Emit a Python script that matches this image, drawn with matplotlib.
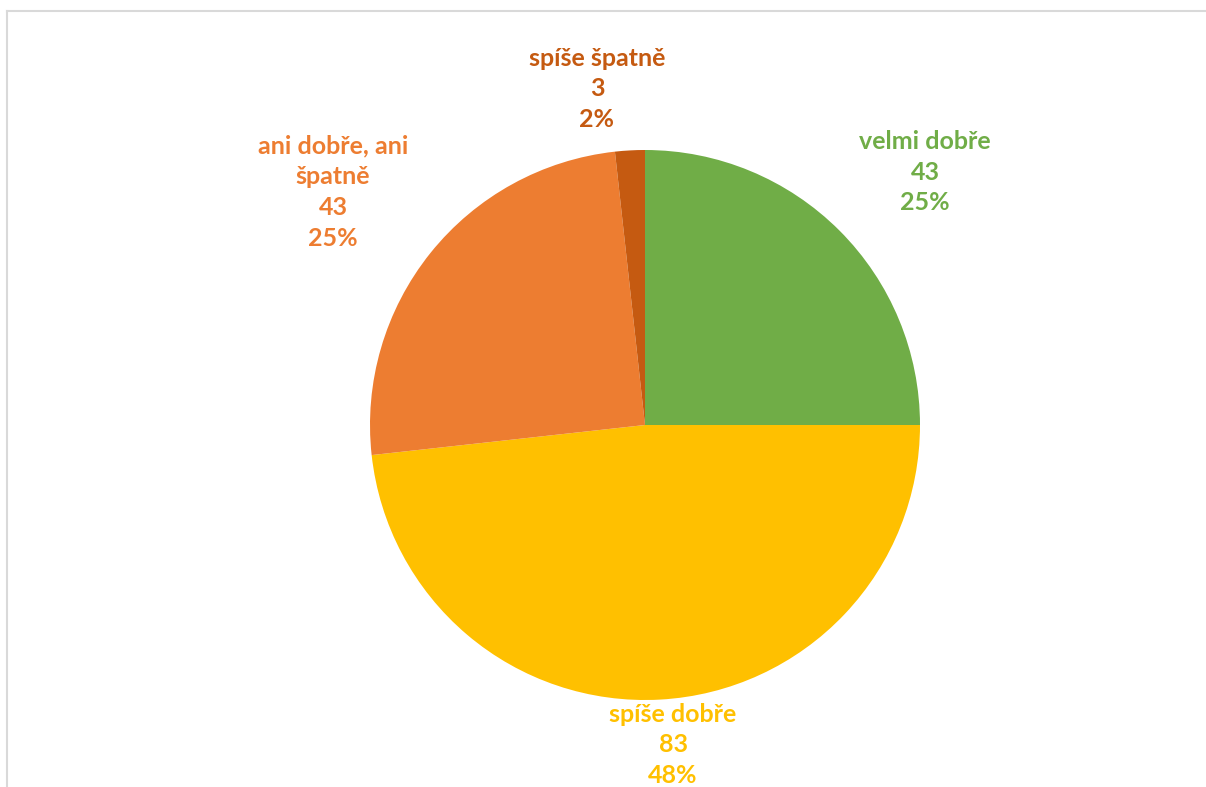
import matplotlib.pyplot as plt
from matplotlib.lines import Line2D

# data
labels = ['velmi dobře', 'spíše dobře', 'ani dobře, ani\nšpatně', 'spíše špatně']
values = [43, 83, 43, 3]
colors = ['#70AD47', '#FFC000', '#ED7D31', '#C55A11']

W, H = 1206, 787
fig = plt.figure(figsize=(W / 100, H / 100), dpi=100)
fig.patch.set_facecolor('white')

# pie centre at pixel (645, 425), radius 275 px
cx, cy, r = 645, 425, 275
ax = fig.add_axes([(cx - r) / W, (H - cy - r) / H, 2 * r / W, 2 * r / H])
ax.pie(values, colors=colors, startangle=90, counterclock=False,
       wedgeprops=dict(linewidth=0))
ax.set_xlim(-1, 1)
ax.set_ylim(-1, 1)
ax.set_aspect('equal')
ax.axis('off')

# chart frame (cut off at right and bottom)
fig.add_artist(Line2D([7 / W, 1.0], [1 - 10.5 / H, 1 - 10.5 / H], color='#d9d9d9', lw=1.5))
fig.add_artist(Line2D([7 / W, 7 / W], [0, 1 - 10.5 / H], color='#d9d9d9', lw=1.5))

# data labels
total = sum(values)
label_pos = [(925, 172), (673, 745), (333, 192), (597, 89)]
for lab, v, c, (px, py) in zip(labels, values, colors, label_pos):
    txt = '%s\n%d\n%d%%' % (lab, v, round(100.0 * v / total))
    fig.text(px / W, 1 - py / H, txt, ha='center', va='center', color=c,
             fontsize=18, fontweight='bold', family='Lato', linespacing=1.42)

plt.savefig('out.png', dpi=100)
